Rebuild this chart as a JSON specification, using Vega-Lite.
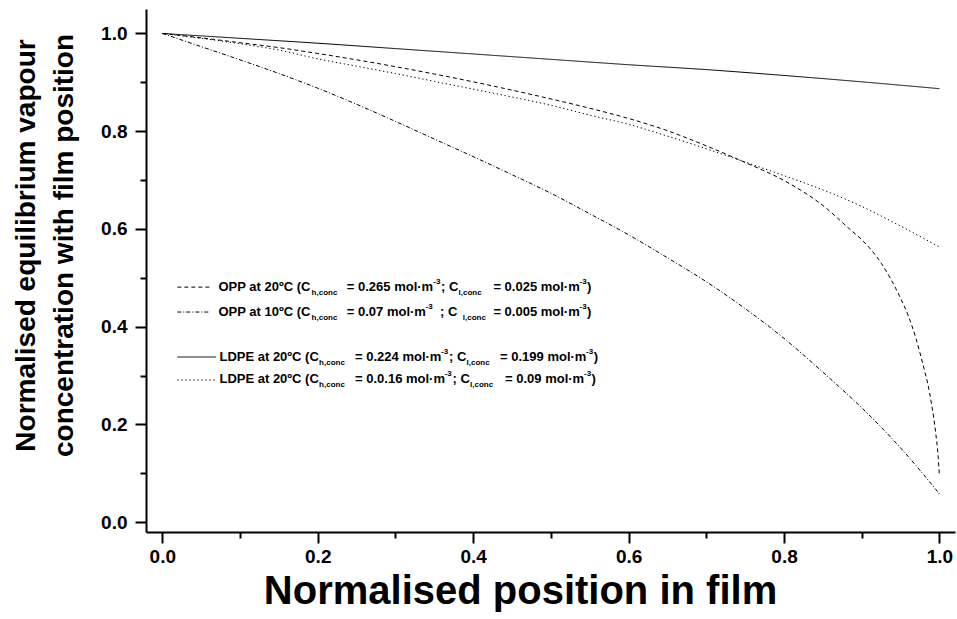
{
  "$schema": "https://vega.github.io/schema/vega-lite/v6.json",
  "width": 809,
  "height": 523,
  "autosize": "none",
  "padding": {"left": 146, "top": 9, "right": 2, "bottom": 87},
  "background": "white",
  "config": {
    "view": {"stroke": null},
    "font": "Liberation Sans",
    "axis": {
      "grid": false,
      "domainColor": "black",
      "domainWidth": 2,
      "tickColor": "black",
      "tickWidth": 2,
      "labelColor": "black",
      "labelFont": "Liberation Sans",
      "labelFontWeight": "bold",
      "labelFontSize": 19,
      "labelFlush": false,
      "labelOverlap": false,
      "titleColor": "black",
      "titleFont": "Liberation Sans",
      "titleFontWeight": "bold",
      "titleFontSize": 28
    }
  },
  "datasets": {
    "curves": [
      {"series": "opp20", "x": 0.0, "y": 1.0},
      {"series": "opp20", "x": 0.05, "y": 0.991},
      {"series": "opp20", "x": 0.1, "y": 0.981},
      {"series": "opp20", "x": 0.15, "y": 0.971},
      {"series": "opp20", "x": 0.2, "y": 0.959},
      {"series": "opp20", "x": 0.25, "y": 0.946},
      {"series": "opp20", "x": 0.3, "y": 0.932},
      {"series": "opp20", "x": 0.35, "y": 0.917},
      {"series": "opp20", "x": 0.4, "y": 0.901},
      {"series": "opp20", "x": 0.45, "y": 0.884},
      {"series": "opp20", "x": 0.5, "y": 0.866},
      {"series": "opp20", "x": 0.55, "y": 0.847},
      {"series": "opp20", "x": 0.6, "y": 0.826},
      {"series": "opp20", "x": 0.65, "y": 0.801},
      {"series": "opp20", "x": 0.7, "y": 0.77},
      {"series": "opp20", "x": 0.75, "y": 0.736},
      {"series": "opp20", "x": 0.8, "y": 0.699},
      {"series": "opp20", "x": 0.85, "y": 0.648},
      {"series": "opp20", "x": 0.885, "y": 0.599},
      {"series": "opp20", "x": 0.9, "y": 0.578},
      {"series": "opp20", "x": 0.925, "y": 0.53},
      {"series": "opp20", "x": 0.95, "y": 0.458},
      {"series": "opp20", "x": 0.96, "y": 0.422},
      {"series": "opp20", "x": 0.97, "y": 0.375},
      {"series": "opp20", "x": 0.98, "y": 0.315},
      {"series": "opp20", "x": 0.985, "y": 0.283},
      {"series": "opp20", "x": 0.99, "y": 0.24},
      {"series": "opp20", "x": 0.995, "y": 0.185},
      {"series": "opp20", "x": 0.998, "y": 0.14},
      {"series": "opp20", "x": 1.0, "y": 0.094},

      {"series": "opp10", "x": 0.0, "y": 1.0},
      {"series": "opp10", "x": 0.05, "y": 0.973},
      {"series": "opp10", "x": 0.1, "y": 0.946},
      {"series": "opp10", "x": 0.15, "y": 0.918},
      {"series": "opp10", "x": 0.2, "y": 0.888},
      {"series": "opp10", "x": 0.25, "y": 0.855},
      {"series": "opp10", "x": 0.3, "y": 0.82},
      {"series": "opp10", "x": 0.35, "y": 0.784},
      {"series": "opp10", "x": 0.4, "y": 0.748},
      {"series": "opp10", "x": 0.45, "y": 0.711},
      {"series": "opp10", "x": 0.5, "y": 0.673},
      {"series": "opp10", "x": 0.55, "y": 0.631},
      {"series": "opp10", "x": 0.6, "y": 0.588},
      {"series": "opp10", "x": 0.65, "y": 0.541},
      {"series": "opp10", "x": 0.7, "y": 0.492},
      {"series": "opp10", "x": 0.75, "y": 0.437},
      {"series": "opp10", "x": 0.8, "y": 0.376},
      {"series": "opp10", "x": 0.85, "y": 0.307},
      {"series": "opp10", "x": 0.9, "y": 0.234},
      {"series": "opp10", "x": 0.95, "y": 0.152},
      {"series": "opp10", "x": 1.0, "y": 0.058},

      {"series": "ldpe224", "x": 0.0, "y": 1.0},
      {"series": "ldpe224", "x": 0.1, "y": 0.99},
      {"series": "ldpe224", "x": 0.2, "y": 0.98},
      {"series": "ldpe224", "x": 0.3, "y": 0.969},
      {"series": "ldpe224", "x": 0.4, "y": 0.958},
      {"series": "ldpe224", "x": 0.5, "y": 0.947},
      {"series": "ldpe224", "x": 0.6, "y": 0.936},
      {"series": "ldpe224", "x": 0.7, "y": 0.926},
      {"series": "ldpe224", "x": 0.8, "y": 0.914},
      {"series": "ldpe224", "x": 0.9, "y": 0.901},
      {"series": "ldpe224", "x": 1.0, "y": 0.887},

      {"series": "ldpe016", "x": 0.0, "y": 1.0},
      {"series": "ldpe016", "x": 0.05, "y": 0.99},
      {"series": "ldpe016", "x": 0.1, "y": 0.979},
      {"series": "ldpe016", "x": 0.15, "y": 0.966},
      {"series": "ldpe016", "x": 0.2, "y": 0.948},
      {"series": "ldpe016", "x": 0.25, "y": 0.933},
      {"series": "ldpe016", "x": 0.3, "y": 0.918},
      {"series": "ldpe016", "x": 0.35, "y": 0.902},
      {"series": "ldpe016", "x": 0.4, "y": 0.886},
      {"series": "ldpe016", "x": 0.45, "y": 0.87},
      {"series": "ldpe016", "x": 0.5, "y": 0.853},
      {"series": "ldpe016", "x": 0.55, "y": 0.833},
      {"series": "ldpe016", "x": 0.6, "y": 0.814},
      {"series": "ldpe016", "x": 0.65, "y": 0.79},
      {"series": "ldpe016", "x": 0.7, "y": 0.764},
      {"series": "ldpe016", "x": 0.75, "y": 0.737},
      {"series": "ldpe016", "x": 0.8, "y": 0.709},
      {"series": "ldpe016", "x": 0.85, "y": 0.68},
      {"series": "ldpe016", "x": 0.9, "y": 0.646},
      {"series": "ldpe016", "x": 0.95, "y": 0.606},
      {"series": "ldpe016", "x": 1.0, "y": 0.563}
    ],
    "keySamples": [
      {"series": "opp20", "x": 0.0193, "x2": 0.0618, "y": 0.481},
      {"series": "opp10", "x": 0.0193, "x2": 0.0618, "y": 0.430},
      {"series": "ldpe224", "x": 0.0193, "x2": 0.0692, "y": 0.338},
      {"series": "ldpe016", "x": 0.0193, "x2": 0.0692, "y": 0.291}
    ],
    "keyText": [
      {"part": "main", "x": 0.0722, "y": 0.482, "text": "OPP at 20ºC (C"},
      {"part": "sub", "x": 0.1921, "y": 0.482, "text": "h,conc"},
      {"part": "main", "x": 0.2374, "y": 0.482, "text": "= 0.265 mol·m"},
      {"part": "sup", "x": 0.3487, "y": 0.482, "text": "-3"},
      {"part": "main", "x": 0.3587, "y": 0.482, "text": "; C"},
      {"part": "sub", "x": 0.3812, "y": 0.482, "text": "l,conc"},
      {"part": "main", "x": 0.4260, "y": 0.482, "text": "= 0.025 mol·m"},
      {"part": "sup", "x": 0.5368, "y": 0.482, "text": "-3"},
      {"part": "main", "x": 0.5466, "y": 0.482, "text": ")"},

      {"part": "main", "x": 0.0722, "y": 0.431, "text": "OPP at 10ºC (C"},
      {"part": "sub", "x": 0.1921, "y": 0.431, "text": "h,conc"},
      {"part": "main", "x": 0.2374, "y": 0.431, "text": "= 0.07 mol·m"},
      {"part": "sup", "x": 0.3387, "y": 0.431, "text": "-3"},
      {"part": "main", "x": 0.3574, "y": 0.431, "text": ";  C"},
      {"part": "sub", "x": 0.3866, "y": 0.431, "text": "l,conc"},
      {"part": "main", "x": 0.4260, "y": 0.431, "text": "= 0.005 mol·m"},
      {"part": "sup", "x": 0.5368, "y": 0.431, "text": "-3"},
      {"part": "main", "x": 0.5466, "y": 0.431, "text": ")"},

      {"part": "main", "x": 0.0735, "y": 0.339, "text": "LDPE at 20ºC (C"},
      {"part": "sub", "x": 0.2017, "y": 0.339, "text": "h,conc"},
      {"part": "main", "x": 0.2480, "y": 0.339, "text": "= 0.224 mol·m"},
      {"part": "sup", "x": 0.3587, "y": 0.339, "text": "-3"},
      {"part": "main", "x": 0.3690, "y": 0.339, "text": "; C"},
      {"part": "sub", "x": 0.3915, "y": 0.339, "text": "l,conc"},
      {"part": "main", "x": 0.4346, "y": 0.339, "text": "= 0.199 mol·m"},
      {"part": "sup", "x": 0.5452, "y": 0.339, "text": "-3"},
      {"part": "main", "x": 0.5552, "y": 0.339, "text": ")"},

      {"part": "main", "x": 0.0735, "y": 0.292, "text": "LDPE at 20ºC (C"},
      {"part": "sub", "x": 0.2017, "y": 0.292, "text": "h,conc"},
      {"part": "main", "x": 0.2480, "y": 0.292, "text": "= 0.0.16 mol·m"},
      {"part": "sup", "x": 0.3633, "y": 0.292, "text": "-3"},
      {"part": "main", "x": 0.3735, "y": 0.292, "text": "; C"},
      {"part": "sub", "x": 0.3959, "y": 0.292, "text": "l,conc"},
      {"part": "main", "x": 0.4410, "y": 0.292, "text": "= 0.09 mol·m"},
      {"part": "sup", "x": 0.5426, "y": 0.292, "text": "-3"},
      {"part": "main", "x": 0.5523, "y": 0.292, "text": ")"}
    ]
  },
  "layer": [
    {
      "data": {"name": "curves"},
      "mark": {"type": "line", "color": "black", "interpolate": "monotone"},
      "encoding": {
        "x": {
          "field": "x",
          "type": "quantitative",
          "scale": {"domain": [-0.021, 1.02], "nice": false, "zero": false},
          "axis": {
            "title": "Normalised position in film",
            "values": [0, 0.1, 0.2, 0.3, 0.4, 0.5, 0.6, 0.7, 0.8, 0.9, 1.0],
            "labelExpr": "abs(datum.value * 5 - round(datum.value * 5)) < 0.001 ? format(datum.value, '.1f') : ''",
            "tickSize": {"condition": {"test": "abs(datum.value * 5 - round(datum.value * 5)) < 0.001", "value": 11}, "value": 6},
            "labelPadding": 4,
            "titleFontSize": 40,
            "titleBaseline": "alphabetic",
            "titleAlign": "center",
            "titleX": 374,
            "titleY": 71
          }
        },
        "y": {
          "field": "y",
          "type": "quantitative",
          "scale": {"domain": [-0.02, 1.05], "nice": false, "zero": false},
          "axis": {
            "title": ["Normalised equilibrium vapour", "concentration with film position"],
            "values": [0, 0.1, 0.2, 0.3, 0.4, 0.5, 0.6, 0.7, 0.8, 0.9, 1.0],
            "labelExpr": "abs(datum.value * 5 - round(datum.value * 5)) < 0.001 ? format(datum.value, '.1f') : ''",
            "tickSize": {"condition": {"test": "abs(datum.value * 5 - round(datum.value * 5)) < 0.001", "value": 11}, "value": 6},
            "labelPadding": 8,
            "titleLineHeight": 38,
            "titleBaseline": "alphabetic",
            "titleX": -112,
            "titleY": 236
          }
        },
        "detail": {"field": "series"},
        "strokeDash": {
          "field": "series",
          "type": "nominal",
          "scale": {
            "domain": ["opp20", "opp10", "ldpe224", "ldpe016"],
            "range": [[4, 3], [4, 2, 1, 2], [1, 0], [1.3, 2.7]]
          },
          "legend": null
        },
        "strokeWidth": {
          "field": "series",
          "type": "nominal",
          "scale": {
            "domain": ["opp20", "opp10", "ldpe224", "ldpe016"],
            "range": [1, 1, 1.5, 1.2]
          },
          "legend": null
        }
      }
    },
    {
      "data": {"name": "keySamples"},
      "mark": {"type": "rule", "color": "black"},
      "encoding": {
        "x": {"field": "x", "type": "quantitative"},
        "x2": {"field": "x2"},
        "y": {"field": "y", "type": "quantitative"},
        "strokeDash": {"field": "series", "type": "nominal", "legend": null},
        "strokeWidth": {"field": "series", "type": "nominal", "legend": null}
      }
    },
    {
      "data": {"name": "keyText"},
      "transform": [{"filter": "datum.part === 'main'"}],
      "mark": {"type": "text", "align": "left", "baseline": "middle", "fontSize": 13, "fontWeight": "bold", "color": "black"},
      "encoding": {
        "x": {"field": "x", "type": "quantitative"},
        "y": {"field": "y", "type": "quantitative"},
        "text": {"field": "text"}
      }
    },
    {
      "data": {"name": "keyText"},
      "transform": [{"filter": "datum.part === 'sub'"}],
      "mark": {"type": "text", "align": "left", "baseline": "middle", "fontSize": 8, "fontWeight": "bold", "color": "black", "dy": 6},
      "encoding": {
        "x": {"field": "x", "type": "quantitative"},
        "y": {"field": "y", "type": "quantitative"},
        "text": {"field": "text"}
      }
    },
    {
      "data": {"name": "keyText"},
      "transform": [{"filter": "datum.part === 'sup'"}],
      "mark": {"type": "text", "align": "left", "baseline": "middle", "fontSize": 8, "fontWeight": "bold", "color": "black", "dy": -5},
      "encoding": {
        "x": {"field": "x", "type": "quantitative"},
        "y": {"field": "y", "type": "quantitative"},
        "text": {"field": "text"}
      }
    }
  ]
}
